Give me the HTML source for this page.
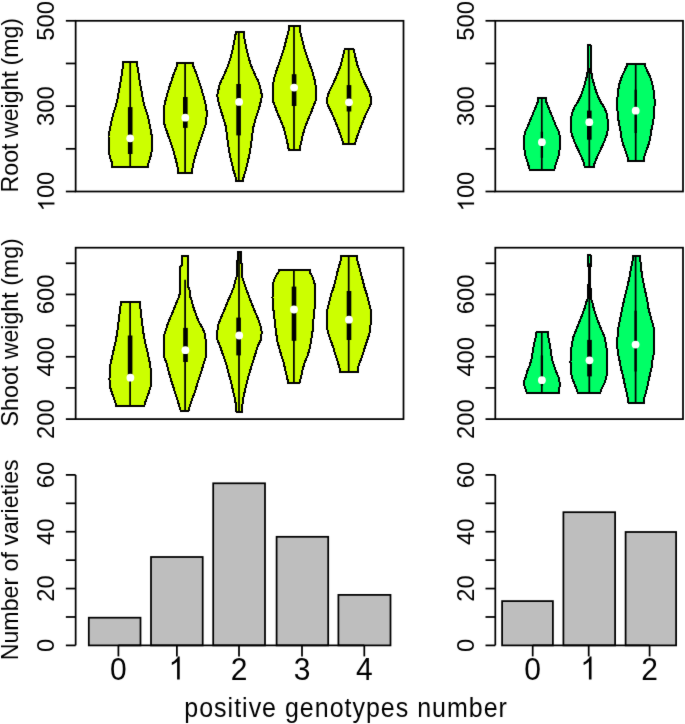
<!DOCTYPE html>
<html><head><meta charset="utf-8"><style>
html,body{margin:0;padding:0;background:#fff;}
svg{display:block;}
text{font-family:"Liberation Sans",sans-serif;fill:#000;stroke:none;}
.g1{stroke:none;fill:#000;}
</style></head><body>
<svg width="685" height="724" viewBox="0 0 685 724">
<defs><filter id="bl" x="-0.1" y="-0.1" width="1.2" height="1.2"><feGaussianBlur stdDeviation="0.45"/></filter><filter id="nf" x="0" y="0" width="685" height="724" filterUnits="userSpaceOnUse" color-interpolation-filters="sRGB"><feConvolveMatrix order="3" kernelMatrix="0.01 0.06 0.01 0.06 0.72 0.06 0.01 0.06 0.01" divisor="1" edgeMode="duplicate" preserveAlpha="false"/></filter></defs>
<rect width="685" height="724" fill="#fff"/>
<g stroke="#000" stroke-width="1.75" fill="#000" filter="url(#nf)">
<rect x="75.65" y="20.8" width="327.85" height="170.7" fill="none" stroke="#000" stroke-width="1.75"/>
<rect x="75.65" y="247.7" width="327.85" height="171.4" fill="none" stroke="#000" stroke-width="1.75"/>
<rect x="495.3" y="20.8" width="187.7" height="170.7" fill="none" stroke="#000" stroke-width="1.75"/>
<rect x="495.3" y="247.7" width="187.7" height="171.4" fill="none" stroke="#000" stroke-width="1.75"/>
<line x1="65.85" y1="191.5" x2="75.65" y2="191.5"/>
<line x1="65.85" y1="148.82" x2="75.65" y2="148.82"/>
<line x1="65.85" y1="106.15" x2="75.65" y2="106.15"/>
<line x1="65.85" y1="63.47" x2="75.65" y2="63.47"/>
<line x1="65.85" y1="20.8" x2="75.65" y2="20.8"/>
<g transform="translate(54.45,191.5) rotate(-90) scale(1.035,1)"><polygon class="g1" points="-10.62,0 -12.64,0 -12.64,-12.88 -13.37,-12.19 -14.56,-11.49 -15.75,-10.79 -16.69,-10.44 -16.69,-12.4 -15,-13.2 -13.73,-14.33 -12.46,-15.46 -11.93,-16.53 -10.62,-16.53"/><text x="-6.4" y="0" font-size="23">0</text><text x="6.4" y="0" font-size="23">0</text></g>
<g transform="translate(54.45,106.15) rotate(-90) scale(1.035,1)"><text x="-19.19" y="0" font-size="23">3</text><text x="-6.4" y="0" font-size="23">0</text><text x="6.4" y="0" font-size="23">0</text></g>
<g transform="translate(54.45,20.8) rotate(-90) scale(1.035,1)"><text x="-19.19" y="0" font-size="23">5</text><text x="-6.4" y="0" font-size="23">0</text><text x="6.4" y="0" font-size="23">0</text></g>
<line x1="65.85" y1="419.1" x2="75.65" y2="419.1"/>
<line x1="65.85" y1="387.94" x2="75.65" y2="387.94"/>
<line x1="65.85" y1="356.77" x2="75.65" y2="356.77"/>
<line x1="65.85" y1="325.61" x2="75.65" y2="325.61"/>
<line x1="65.85" y1="294.45" x2="75.65" y2="294.45"/>
<line x1="65.85" y1="263.28" x2="75.65" y2="263.28"/>
<g transform="translate(54.45,419.1) rotate(-90) scale(1.035,1)"><text x="-19.19" y="0" font-size="23">2</text><text x="-6.4" y="0" font-size="23">0</text><text x="6.4" y="0" font-size="23">0</text></g>
<g transform="translate(54.45,356.77) rotate(-90) scale(1.035,1)"><text x="-19.19" y="0" font-size="23">4</text><text x="-6.4" y="0" font-size="23">0</text><text x="6.4" y="0" font-size="23">0</text></g>
<g transform="translate(54.45,294.45) rotate(-90) scale(1.035,1)"><text x="-19.19" y="0" font-size="23">6</text><text x="-6.4" y="0" font-size="23">0</text><text x="6.4" y="0" font-size="23">0</text></g>
<line x1="75.65" y1="474.9" x2="75.65" y2="645.4"/>
<line x1="65.85" y1="645.4" x2="75.65" y2="645.4"/>
<line x1="65.85" y1="616.98" x2="75.65" y2="616.98"/>
<line x1="65.85" y1="588.57" x2="75.65" y2="588.57"/>
<line x1="65.85" y1="560.15" x2="75.65" y2="560.15"/>
<line x1="65.85" y1="531.73" x2="75.65" y2="531.73"/>
<line x1="65.85" y1="503.32" x2="75.65" y2="503.32"/>
<line x1="65.85" y1="474.9" x2="75.65" y2="474.9"/>
<g transform="translate(54.45,645.4) rotate(-90) scale(1.035,1)"><text x="-6.4" y="0" font-size="23">0</text></g>
<g transform="translate(54.45,588.57) rotate(-90) scale(1.035,1)"><text x="-12.79" y="0" font-size="23">2</text><text x="0" y="0" font-size="23">0</text></g>
<g transform="translate(54.45,531.73) rotate(-90) scale(1.035,1)"><text x="-12.79" y="0" font-size="23">4</text><text x="0" y="0" font-size="23">0</text></g>
<g transform="translate(54.45,474.9) rotate(-90) scale(1.035,1)"><text x="-12.79" y="0" font-size="23">6</text><text x="0" y="0" font-size="23">0</text></g>
<line x1="485.5" y1="191.5" x2="495.3" y2="191.5"/>
<line x1="485.5" y1="148.82" x2="495.3" y2="148.82"/>
<line x1="485.5" y1="106.15" x2="495.3" y2="106.15"/>
<line x1="485.5" y1="63.47" x2="495.3" y2="63.47"/>
<line x1="485.5" y1="20.8" x2="495.3" y2="20.8"/>
<g transform="translate(474.1,191.5) rotate(-90) scale(1.035,1)"><polygon class="g1" points="-10.62,0 -12.64,0 -12.64,-12.88 -13.37,-12.19 -14.56,-11.49 -15.75,-10.79 -16.69,-10.44 -16.69,-12.4 -15,-13.2 -13.73,-14.33 -12.46,-15.46 -11.93,-16.53 -10.62,-16.53"/><text x="-6.4" y="0" font-size="23">0</text><text x="6.4" y="0" font-size="23">0</text></g>
<g transform="translate(474.1,106.15) rotate(-90) scale(1.035,1)"><text x="-19.19" y="0" font-size="23">3</text><text x="-6.4" y="0" font-size="23">0</text><text x="6.4" y="0" font-size="23">0</text></g>
<g transform="translate(474.1,20.8) rotate(-90) scale(1.035,1)"><text x="-19.19" y="0" font-size="23">5</text><text x="-6.4" y="0" font-size="23">0</text><text x="6.4" y="0" font-size="23">0</text></g>
<line x1="485.5" y1="419.1" x2="495.3" y2="419.1"/>
<line x1="485.5" y1="387.94" x2="495.3" y2="387.94"/>
<line x1="485.5" y1="356.77" x2="495.3" y2="356.77"/>
<line x1="485.5" y1="325.61" x2="495.3" y2="325.61"/>
<line x1="485.5" y1="294.45" x2="495.3" y2="294.45"/>
<line x1="485.5" y1="263.28" x2="495.3" y2="263.28"/>
<g transform="translate(474.1,419.1) rotate(-90) scale(1.035,1)"><text x="-19.19" y="0" font-size="23">2</text><text x="-6.4" y="0" font-size="23">0</text><text x="6.4" y="0" font-size="23">0</text></g>
<g transform="translate(474.1,356.77) rotate(-90) scale(1.035,1)"><text x="-19.19" y="0" font-size="23">4</text><text x="-6.4" y="0" font-size="23">0</text><text x="6.4" y="0" font-size="23">0</text></g>
<g transform="translate(474.1,294.45) rotate(-90) scale(1.035,1)"><text x="-19.19" y="0" font-size="23">6</text><text x="-6.4" y="0" font-size="23">0</text><text x="6.4" y="0" font-size="23">0</text></g>
<line x1="495.3" y1="474.9" x2="495.3" y2="645.4"/>
<line x1="485.5" y1="645.4" x2="495.3" y2="645.4"/>
<line x1="485.5" y1="616.98" x2="495.3" y2="616.98"/>
<line x1="485.5" y1="588.57" x2="495.3" y2="588.57"/>
<line x1="485.5" y1="560.15" x2="495.3" y2="560.15"/>
<line x1="485.5" y1="531.73" x2="495.3" y2="531.73"/>
<line x1="485.5" y1="503.32" x2="495.3" y2="503.32"/>
<line x1="485.5" y1="474.9" x2="495.3" y2="474.9"/>
<g transform="translate(474.1,645.4) rotate(-90) scale(1.035,1)"><text x="-6.4" y="0" font-size="23">0</text></g>
<g transform="translate(474.1,588.57) rotate(-90) scale(1.035,1)"><text x="-12.79" y="0" font-size="23">2</text><text x="0" y="0" font-size="23">0</text></g>
<g transform="translate(474.1,531.73) rotate(-90) scale(1.035,1)"><text x="-12.79" y="0" font-size="23">4</text><text x="0" y="0" font-size="23">0</text></g>
<g transform="translate(474.1,474.9) rotate(-90) scale(1.035,1)"><text x="-12.79" y="0" font-size="23">6</text><text x="0" y="0" font-size="23">0</text></g>
<polygon points="123,62.4 122.9,67 121.45,76 120.1,85 118.55,93 117.1,101 115.3,108 113.2,114 111.8,119.5 110.1,128 108.5,136.5 108.5,150.5 110.1,157.5 112.3,164 112.3,167.2 148.1,167.2 148.1,164 150.3,157.5 151.9,150.5 151.9,136.5 150.3,128 148.6,119.5 147.2,114 145.1,108 143.3,101 141.85,93 140.3,85 138.95,76 137.5,67 137.4,62.4" fill="#CCFF00" stroke="#000" stroke-width="2.0" stroke-linejoin="miter" shape-rendering="crispEdges" />
<line x1="130.2" y1="62.4" x2="130.2" y2="167.2"/>
<rect x="127.9" y="107.1" width="4.6" height="46.9" fill="#000" stroke="none"/>
<circle cx="130.2" cy="138.3" r="3.9" fill="#fff" stroke="none"/>
<polygon points="177.1,62.7 177.1,65.5 175.2,70.3 173.3,75.1 171.5,80.8 169.3,87 167.1,94.8 165,102.3 163.6,111 163.7,118 164.3,124 165.6,128 167.7,134 170.8,143 173.6,151.5 175.9,160 177.6,167 178.3,173.3 191.9,173.3 192.6,167 194.3,160 196.6,151.5 199.4,143 202.5,134 204.6,128 205.9,124 206.5,118 206.6,111 205.2,102.3 203.1,94.8 200.9,87 198.7,80.8 196.9,75.1 195,70.3 193.1,65.5 193.1,62.7" fill="#CCFF00" stroke="#000" stroke-width="2.0" stroke-linejoin="miter" shape-rendering="crispEdges" />
<line x1="185.1" y1="62.7" x2="185.1" y2="173.3"/>
<rect x="183" y="97" width="4.6" height="30.9" fill="#000" stroke="none"/>
<circle cx="185.3" cy="117.7" r="3.9" fill="#fff" stroke="none"/>
<polygon points="235.6,31.9 235.6,34 234.4,41 232.5,50 230.5,58 228.3,65 225.8,71 223,77.5 221.4,80 219.5,85.3 218.3,90.5 217.2,95.8 218.3,101 219.65,106.3 221.2,111.5 223.2,117.7 225.4,125 226.1,128.5 227.4,139 229.1,151 231.2,161 233.4,170 235.7,177.5 235.9,180.8 243.3,180.8 243.5,177.5 245.8,170 248,161 250.1,151 251.8,139 253.1,128.5 253.8,125 256,117.7 258,111.5 259.55,106.3 260.9,101 262,95.8 260.9,90.5 259.7,85.3 257.8,80 256.2,77.5 253.4,71 250.9,65 248.7,58 246.7,50 244.8,41 243.6,34 243.6,31.9" fill="#CCFF00" stroke="#000" stroke-width="2.0" stroke-linejoin="miter" shape-rendering="crispEdges" />
<line x1="238.8" y1="31.9" x2="238.8" y2="180.8"/>
<rect x="236.3" y="84" width="4.6" height="51.4" fill="#000" stroke="none"/>
<circle cx="239.1" cy="101.9" r="3.9" fill="#fff" stroke="none"/>
<polygon points="288.9,26.3 288.9,29.5 286.55,38.4 284.25,47.6 281.85,55.3 278.95,63.5 276.05,71.7 273.9,79.5 272.7,86.5 272.6,94 272.9,101 274.6,105 277.3,112.6 280.7,120.3 283.7,128 285.9,136.4 287.85,145 288.7,149.6 299.7,149.6 300.55,145 302.5,136.4 304.7,128 307.7,120.3 311.1,112.6 313.8,105 315.5,101 315.8,94 315.7,86.5 314.5,79.5 312.35,71.7 309.45,63.5 306.55,55.3 304.15,47.6 301.85,38.4 299.5,29.5 299.5,26.3" fill="#CCFF00" stroke="#000" stroke-width="2.0" stroke-linejoin="miter" shape-rendering="crispEdges" />
<line x1="294" y1="26.3" x2="294" y2="149.6"/>
<rect x="291.8" y="74.2" width="4.6" height="31.8" fill="#000" stroke="none"/>
<circle cx="294.1" cy="87.6" r="3.9" fill="#fff" stroke="none"/>
<polygon points="344.7,49.2 343.7,53 342.1,60 340.6,66 338.6,71 336.6,76 333.9,82 330.9,88 328.9,92 327.3,98 327.5,104 329.2,108 332,113.5 335.1,121 337.9,128 340.5,135 342.5,141 343.1,143.9 355.1,143.9 355.7,141 357.7,135 360.3,128 363.1,121 366.2,113.5 369,108 370.7,104 370.9,98 369.3,92 367.3,88 364.3,82 361.6,76 359.6,71 357.6,66 356.1,60 354.5,53 353.5,49.2" fill="#CCFF00" stroke="#000" stroke-width="2.0" stroke-linejoin="miter" shape-rendering="crispEdges" />
<line x1="348.7" y1="49.2" x2="348.7" y2="143.9"/>
<rect x="346.7" y="85.1" width="4.6" height="26.4" fill="#000" stroke="none"/>
<circle cx="349" cy="102.3" r="3.9" fill="#fff" stroke="none"/>
<polygon points="538.3,97.7 538.2,101 535.4,107.6 532,116 528.3,125.2 525.5,131 524.2,136 524.1,141 523.7,145 524.5,150 525.1,154.6 527.7,162.8 528.7,166 529.8,170.3 554.2,170.3 555.3,166 556.3,162.8 558.9,154.6 559.5,150 560.3,145 559.9,141 559.8,136 558.5,131 555.7,125.2 552,116 548.6,107.6 545.8,101 545.7,97.7" fill="#00FF66" stroke="#000" stroke-width="2.0" stroke-linejoin="miter" shape-rendering="crispEdges" />
<line x1="541.8" y1="97.7" x2="541.8" y2="170.3"/>
<rect x="540.75" y="131.7" width="2.3" height="26.1" fill="#000" stroke="none"/>
<circle cx="541.9" cy="142.2" r="3.9" fill="#fff" stroke="none"/>
<polygon points="588.4,44.8 587.7,46 587.7,72.5 586.9,73.5 586.7,76.7 584.7,84 582.8,90.5 580.6,96.5 577.9,102 574.7,106.8 572.1,113 571.1,118.5 570.55,125 571.1,131.5 571.9,135 574.55,142 577.7,149 580.85,155.6 584,163 584.7,166.7 593.9,166.7 594.6,163 597.75,155.6 600.9,149 604.05,142 606.7,135 607.5,131.5 608.05,125 607.5,118.5 606.5,113 603.9,106.8 600.7,102 598,96.5 595.8,90.5 593.9,84 591.9,76.7 591.7,73.5 590.9,72.5 590.9,46 590.2,44.8" fill="#00FF66" stroke="#000" stroke-width="2.0" stroke-linejoin="miter" shape-rendering="crispEdges" />
<line x1="589.3" y1="68" x2="589.3" y2="166.7"/>
<rect x="587" y="110.6" width="4.6" height="29.1" fill="#000" stroke="none"/>
<circle cx="589.3" cy="122.2" r="3.9" fill="#fff" stroke="none"/>
<polygon points="626.7,64.2 626.7,66 624.7,70.5 621.9,76.5 619.6,83 618.05,91 617.1,101 617.4,110 618,117 618.9,123 620.6,131 621.6,139 623.7,146 625.9,152 627.4,156.5 628,160.6 643.8,160.6 644.4,156.5 645.9,152 648.1,146 650.2,139 651.2,131 652.9,123 653.8,117 654.4,110 654.7,101 653.75,91 652.2,83 649.9,76.5 647.1,70.5 645.1,66 645.1,64.2" fill="#00FF66" stroke="#000" stroke-width="2.0" stroke-linejoin="miter" shape-rendering="crispEdges" />
<line x1="635.7" y1="64.2" x2="635.7" y2="160.6"/>
<rect x="634.55" y="89.7" width="2.3" height="43.3" fill="#000" stroke="none"/>
<circle cx="635.7" cy="110.7" r="3.9" fill="#fff" stroke="none"/>
<polygon points="120.55,301.8 120.55,305.5 119.05,318 117.2,333 115.15,343.5 112.7,354 110.45,364.5 109.7,372 109.5,379 109.7,386 111.9,392.8 115.15,401.6 116.3,406 144.3,406 145.45,401.6 148.7,392.8 150.9,386 151.1,379 150.9,372 150.15,364.5 147.9,354 145.45,343.5 143.4,333 141.55,318 140.05,305.5 140.05,301.8" fill="#CCFF00" stroke="#000" stroke-width="2.0" stroke-linejoin="miter" shape-rendering="crispEdges" />
<line x1="130.1" y1="301.8" x2="130.1" y2="406"/>
<rect x="127.8" y="335.5" width="4.6" height="41.5" fill="#000" stroke="none"/>
<circle cx="130.4" cy="377.7" r="3.9" fill="#fff" stroke="none"/>
<polygon points="182.1,256.4 182.1,265.5 180.2,266.5 180.2,286.5 180.2,291.5 179.1,296.4 177.6,300 174.5,307.5 171,316 168,323 166.5,328 164.5,334 163.9,346 164.5,358 166.2,362 168.5,371 171.5,381.5 174.8,391.5 177.5,400 179.6,407 180.6,410.6 188.5,410.6 189.5,407 191.8,400 195,391.5 198,381.5 201.5,371 204.2,362 205.5,358 206.2,346 205,334 202.5,328 199.5,323 196.5,316 193.5,307.5 191.5,300 190.1,296.4 190.1,291.5 188.1,286.5 188.1,266.5 188.1,265.5 188.1,256.4" fill="#CCFF00" stroke="#000" stroke-width="2.0" stroke-linejoin="miter" shape-rendering="crispEdges" />
<line x1="185.1" y1="279.8" x2="185.1" y2="410.6"/>
<rect x="183.2" y="327.9" width="4.6" height="34.1" fill="#000" stroke="none"/>
<circle cx="185.4" cy="350.2" r="3.9" fill="#fff" stroke="none"/>
<polygon points="238.2,252.4 238.2,260 236.5,261 236.5,265 236.5,276.7 235.6,279.5 233.8,287 231,294 227.7,301.5 224.4,310 221,317.5 218.5,324 217.2,332 217.5,340 219.8,345.5 223.1,355 226.4,364.5 229,374.5 231.7,385 234.3,396 236.2,406 236.5,411.9 242,411.9 242.2,406 243.7,396 246.2,385 249,374.5 252,364.5 255,355 258,345.5 260.8,340 261.8,332 260,324 257.5,317.5 254.2,310 250.9,301.5 248.1,294 245.4,287 243.1,279.5 242,276.7 242,265 240.7,261 240.7,260 240.7,252.4" fill="#CCFF00" stroke="#000" stroke-width="2.0" stroke-linejoin="miter" shape-rendering="crispEdges" />
<line x1="239" y1="252.4" x2="239" y2="411.9"/>
<rect x="236.3" y="317.6" width="4.6" height="37.8" fill="#000" stroke="none"/>
<circle cx="239.2" cy="335.5" r="3.9" fill="#fff" stroke="none"/>
<polygon points="278.5,270.4 278.5,272 275.6,276.5 273.5,282 273,286 272.5,297.5 272.8,307.4 273.5,310.5 274.2,316 274.9,323 276.1,333 277.6,342.2 279.5,349 281.5,356 283.5,362 285.3,370 287.2,378 288.2,382.9 299.5,382.9 300.8,378 302.6,370 304.7,362 307.6,356 309.5,349 310.8,342.2 312.4,333 313.2,323 313.8,316 314,310.5 315.3,307.4 315.3,297.5 315.3,286 314,282 312.4,276.5 309.7,272 309.7,270.4" fill="#CCFF00" stroke="#000" stroke-width="2.0" stroke-linejoin="miter" shape-rendering="crispEdges" />
<line x1="293.9" y1="270.4" x2="293.9" y2="382.9"/>
<rect x="291.7" y="286.6" width="4.6" height="54.2" fill="#000" stroke="none"/>
<circle cx="294" cy="309.5" r="3.9" fill="#fff" stroke="none"/>
<polygon points="341.3,255.5 341.3,258 339.8,263.5 337.4,272 335.5,280 333.5,287.5 331.1,294.5 329.2,302 327.3,310 327.3,322 327.5,330 328.5,334 330.6,340 333.1,347 335.5,355 337.9,362.5 339.8,369 339.8,371.9 357.7,371.9 357.7,369 359.7,362.5 362.6,355 365,347 367.4,340 369.3,334 370,330 370.8,322 370.8,310 368.8,302 366.9,294.5 364.5,287.5 362.6,280 360.6,272 358.2,263.5 356.6,258 356.6,255.5" fill="#CCFF00" stroke="#000" stroke-width="2.0" stroke-linejoin="miter" shape-rendering="crispEdges" />
<line x1="348.7" y1="255.5" x2="348.7" y2="371.9"/>
<rect x="346.7" y="291" width="4.6" height="49" fill="#000" stroke="none"/>
<circle cx="349" cy="319.7" r="3.9" fill="#fff" stroke="none"/>
<polygon points="536.4,332.4 535.9,336 534.5,342 533,350 531.6,359 529.6,365.7 527.2,371 526.5,374 525.8,377 523.6,382.2 524.8,387 526.2,390.4 526.7,392.8 558.6,392.8 558.6,390.4 559.6,387 559.6,382.2 558.5,377 557.1,374 556,371 554,365.7 552,359 550.6,350 549.4,342 548,336 547.9,332.4" fill="#00FF66" stroke="#000" stroke-width="2.0" stroke-linejoin="miter" shape-rendering="crispEdges" />
<line x1="541.8" y1="332.4" x2="541.8" y2="392.8"/>
<rect x="540.75" y="355.4" width="2.3" height="30.3" fill="#000" stroke="none"/>
<circle cx="541.9" cy="380.2" r="3.9" fill="#fff" stroke="none"/>
<polygon points="588.3,255.2 588,256.5 588,266 589,267.5 589,284 588.3,285 588,289.7 587.9,298.5 587,300 586,303.3 584.5,308.5 582.1,315 579.6,321.5 576.6,328.5 573.3,337 571.6,346 570.7,352 570.5,362 570.8,372 572.2,378.5 574.9,385 577,390 577.7,392.9 600.3,392.9 601,390 603.6,385 606.2,378.5 607,372 607.5,362 607,352 606.3,346 604.5,337 601,328.5 598.1,321.5 595.9,315 593.7,308.5 592.6,303.3 591.6,300 590.7,298.5 590.6,289.7 590.3,285 589.6,284 589.6,267.5 590.8,266 590.8,256.5 590.5,255.2" fill="#00FF66" stroke="#000" stroke-width="2.0" stroke-linejoin="miter" shape-rendering="crispEdges" />
<line x1="589.3" y1="263.2" x2="589.3" y2="392.9"/>
<rect x="587.2" y="339.9" width="4.6" height="36.5" fill="#000" stroke="none"/>
<circle cx="589.5" cy="360.3" r="3.9" fill="#fff" stroke="none"/>
<polygon points="632.8,256.4 632.8,260 631,268 629.5,277 627.1,288 624.3,299 622.1,309 620,319.5 618.5,327 617.7,334 617,344 618.1,354 619.4,360 621,368.5 623,376 624.9,385.5 626.5,392 627.8,398 628.5,402.7 643.7,402.7 644.3,398 646,392 647.6,385.5 649.6,376 651.4,368.5 652.5,360 653.7,354 653.7,344 653.7,334 653.6,327 651.4,319.5 648.6,309 647,299 644.5,288 642.3,277 641,268 640.4,260 640.4,256.4" fill="#00FF66" stroke="#000" stroke-width="2.0" stroke-linejoin="miter" shape-rendering="crispEdges" />
<line x1="635.6" y1="256.4" x2="635.6" y2="402.7"/>
<rect x="634.45" y="310.7" width="2.3" height="60.8" fill="#000" stroke="none"/>
<circle cx="635.6" cy="344.6" r="3.9" fill="#fff" stroke="none"/>
<rect x="88.8" y="617.7" width="51.7" height="27.7" fill="#BEBEBE" stroke="#000" stroke-width="1.75"/>
<rect x="151" y="557" width="51.7" height="88.4" fill="#BEBEBE" stroke="#000" stroke-width="1.75"/>
<rect x="213.2" y="483.3" width="51.8" height="162.1" fill="#BEBEBE" stroke="#000" stroke-width="1.75"/>
<rect x="276.6" y="536.8" width="51.6" height="108.6" fill="#BEBEBE" stroke="#000" stroke-width="1.75"/>
<rect x="338.4" y="594.9" width="52.1" height="50.5" fill="#BEBEBE" stroke="#000" stroke-width="1.75"/>
<rect x="502.1" y="601.1" width="50.8" height="44.3" fill="#BEBEBE" stroke="#000" stroke-width="1.75"/>
<rect x="563.4" y="512.2" width="51.7" height="133.2" fill="#BEBEBE" stroke="#000" stroke-width="1.75"/>
<rect x="625.6" y="532" width="50.5" height="113.4" fill="#BEBEBE" stroke="#000" stroke-width="1.75"/>
<line x1="118.4" y1="645.4" x2="364.3" y2="645.4"/>
<line x1="118.4" y1="645.4" x2="118.4" y2="656.4"/>
<g transform="translate(0,679.6) scale(1,1.07) translate(0,-679.6)"><text x="110.06" y="679.6" font-size="30">0</text></g>
<line x1="176.9" y1="645.4" x2="176.9" y2="656.4"/>
<g transform="translate(0,679.6) scale(1,1.07) translate(0,-679.6)"><polygon class="g1" points="179.73,679.6 177.1,679.6 177.1,662.8 176.15,663.71 174.59,664.61 173.04,665.52 171.81,665.98 171.81,663.43 174.02,662.39 175.68,660.91 177.33,659.43 178.02,658.04 179.73,658.04"/></g>
<line x1="239" y1="645.4" x2="239" y2="656.4"/>
<g transform="translate(0,679.6) scale(1,1.07) translate(0,-679.6)"><text x="230.66" y="679.6" font-size="30">2</text></g>
<line x1="302" y1="645.4" x2="302" y2="656.4"/>
<g transform="translate(0,679.6) scale(1,1.07) translate(0,-679.6)"><text x="293.66" y="679.6" font-size="30">3</text></g>
<line x1="364.3" y1="645.4" x2="364.3" y2="656.4"/>
<g transform="translate(0,679.6) scale(1,1.07) translate(0,-679.6)"><text x="355.96" y="679.6" font-size="30">4</text></g>
<line x1="532.7" y1="645.4" x2="649.6" y2="645.4"/>
<line x1="532.7" y1="645.4" x2="532.7" y2="656.4"/>
<g transform="translate(0,679.6) scale(1,1.07) translate(0,-679.6)"><text x="524.36" y="679.6" font-size="30">0</text></g>
<line x1="588.7" y1="645.4" x2="588.7" y2="656.4"/>
<g transform="translate(0,679.6) scale(1,1.07) translate(0,-679.6)"><polygon class="g1" points="591.53,679.6 588.9,679.6 588.9,662.8 587.95,663.71 586.39,664.61 584.84,665.52 583.61,665.98 583.61,663.43 585.82,662.39 587.48,660.91 589.13,659.43 589.82,658.04 591.53,658.04"/></g>
<line x1="649.6" y1="645.4" x2="649.6" y2="656.4"/>
<g transform="translate(0,679.6) scale(1,1.07) translate(0,-679.6)"><text x="641.26" y="679.6" font-size="30">2</text></g>
<g transform="translate(18,105.2) rotate(-90)"><text x="0" y="0" font-size="23.2" text-anchor="middle" word-spacing="-1.0">Root weight (mg)</text></g>
<g transform="translate(18,332.3) rotate(-90)"><text x="0" y="0" font-size="23.2" text-anchor="middle">Shoot weight (mg)</text></g>
<g transform="translate(18,559.8) rotate(-90)"><text x="0" y="0" font-size="23.2" text-anchor="middle">Number of varieties</text></g>
<g transform="translate(0,716.6) scale(1,1.07) translate(0,-716.6)"><text x="184.3" y="716.6" font-size="25" letter-spacing="1.0">positive genotypes number</text></g>
</g>
</svg>
</body></html>
